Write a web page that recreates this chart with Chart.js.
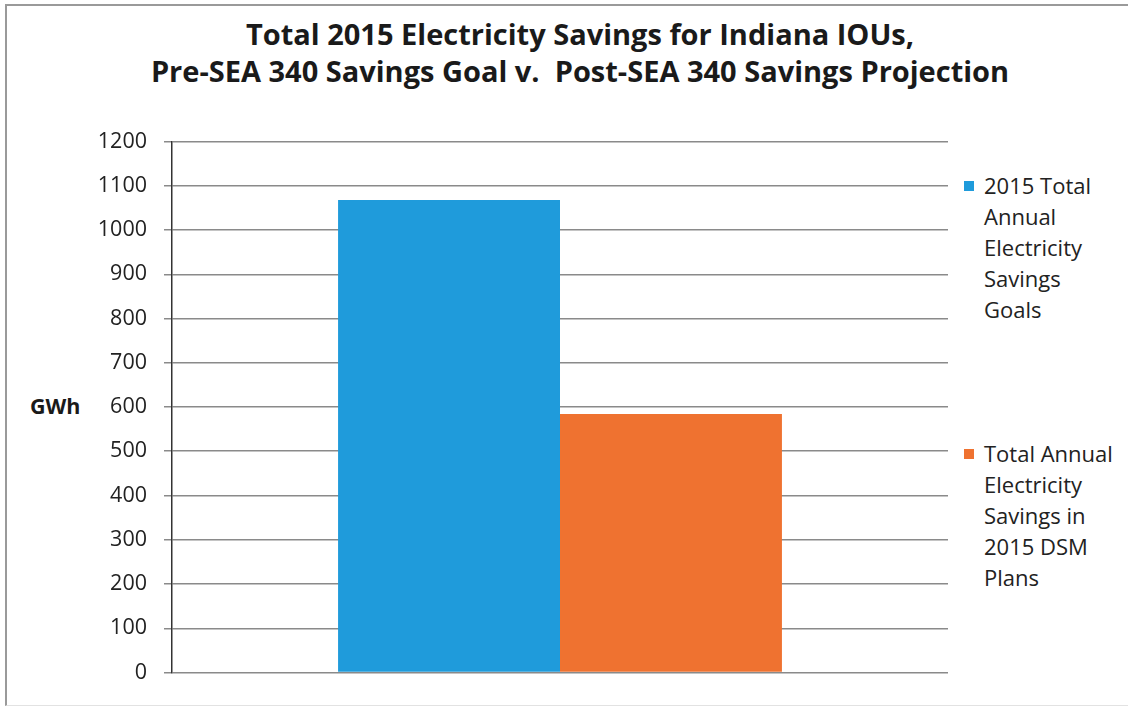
<!DOCTYPE html>
<html>
<head>
<meta charset="utf-8">
<script src="https://cdn.jsdelivr.net/npm/chart.js@4"></script>
<style>
  html, body { margin:0; padding:0; background:#fff; }
  #wrap { position:relative; width:1128px; height:706px; overflow:hidden; background:#fff; }
  #frame { position:absolute; left:5px; top:4px; right:-4px; bottom:0px; border-left:2px solid #9a9a9a; border-top:2px solid #9a9a9a; border-bottom:1px solid #e2e2e2; }
  #title { position:absolute; left:30px; width:1100px; top:15px; text-align:center; font-family:"Open Sans", Lato, sans-serif; font-weight:bold; font-size:29px; line-height:37px; color:#1a1a1a; }
  #ylab { position:absolute; left:30px; top:391px; font-family:"Open Sans", sans-serif; font-weight:bold; font-size:21.5px; color:#1a1a1a; }
  .leg { position:absolute; left:964px; font-family:"Open Sans", Lato, sans-serif; font-size:22px; line-height:31px; color:#222; }
  .leg .sw { position:absolute; left:0; top:11px; width:10px; height:10px; }
  .leg .tx { margin-left:20px; }
  canvas { position:absolute; left:0; top:0; }
</style>
</head>
<body>
<div id="wrap">
  <div id="frame"></div>
  <div id="title"></div>
  <div id="ylab"></div>
  <div id="legend"></div>
  <canvas id="c" width="1128" height="706"></canvas>
</div>
<script>
const titleLines = ["Total 2015 Electricity Savings for Indiana IOUs,", "Pre-SEA 340 Savings Goal v.  Post-SEA 340 Savings Projection"];
const yAxisLabel = "GWh";
const categories = [""];
const seriesNames = [
  ["2015 Total", "Annual", "Electricity", "Savings", "Goals"],
  ["Total Annual", "Electricity", "Savings in", "2015 DSM", "Plans"]
];
const seriesValues = [[1068], [584]];
const seriesColors = ["#1f9bdb", "#ef7230"];
const yTicks = [0,100,200,300,400,500,600,700,800,900,1000,1100,1200];

document.getElementById('title').innerHTML = titleLines.map(s => s.replace(/  /g,' &nbsp;')).join('<br>');
document.getElementById('ylab').textContent = yAxisLabel;
const legTops = [170, 438];
const legEl = document.getElementById('legend');
seriesNames.forEach((lines, i) => {
  const d = document.createElement('div');
  d.className = 'leg';
  d.style.top = legTops[i] + 'px';
  const sw = document.createElement('div'); sw.className = 'sw'; sw.style.background = seriesColors[i];
  const tx = document.createElement('div'); tx.className = 'tx'; tx.innerHTML = lines.join('<br>');
  d.appendChild(sw); d.appendChild(tx); legEl.appendChild(d);
});

new Chart(document.getElementById('c'), {
  type: 'bar',
  data: {
    labels: categories,
    datasets: seriesValues.map((v, i) => ({
      label: seriesNames[i].join(' '),
      data: v,
      backgroundColor: seriesColors[i],
      borderWidth: 0,
      categoryPercentage: 0.572,
      barPercentage: 1.0
    }))
  },
  options: {
    responsive: false,
    animation: false,
    devicePixelRatio: 1,
    layout: { padding: { top: 141.5, bottom: 33.5, left: 0, right: 180 } },
    plugins: { legend: { display: false }, title: { display: false }, tooltip: { enabled: false } },
    scales: {
      x: { display: false },
      y: {
        min: 0, max: 1200,
        afterFit: s => { s.width = 172; },
        afterBuildTicks: s => { s.ticks = yTicks.map(v => ({ value: v })); },
        ticks: { font: { family: 'Open Sans', size: 21.5 }, color: '#222', padding: 17, callback: v => String(v) },
        grid: { color: '#8a8a8a', lineWidth: 1.5, tickLength: 8, tickColor: '#8a8a8a' },
        border: { color: '#333', width: 1.5 }
      }
    }
  }
});
</script>
</body>
</html>
